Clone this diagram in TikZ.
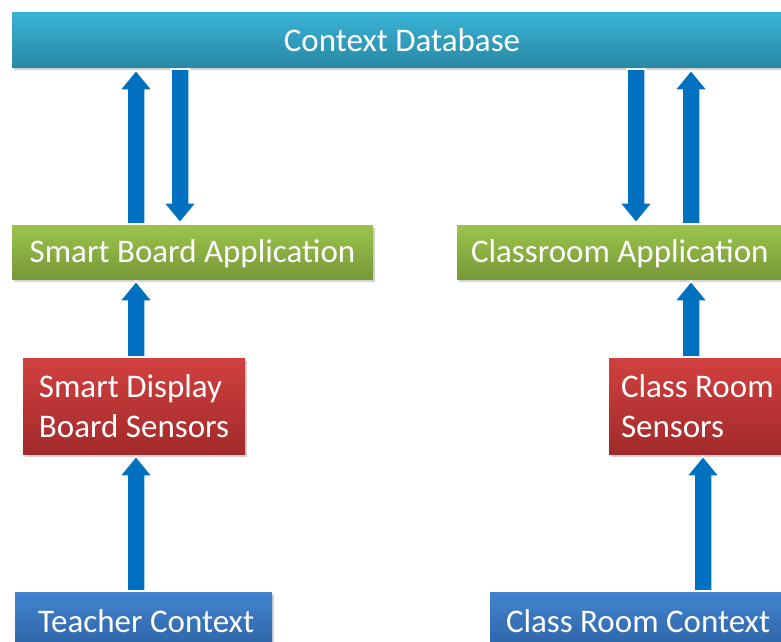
\documentclass[tikz,border=0pt]{standalone}
\usepackage{fontspec}
\setmainfont{Carlito}
\usetikzlibrary{calc,shadows}
\definecolor{arrblue}{RGB}{0,112,192}
\definecolor{dbtop}{RGB}{58,178,214}
\definecolor{dbbot}{RGB}{40,136,164}
\definecolor{grtop}{RGB}{156,196,76}
\definecolor{grbot}{RGB}{118,152,56}
\definecolor{rdtop}{RGB}{210,64,64}
\definecolor{rdbot}{RGB}{162,42,42}
\definecolor{bltop}{RGB}{66,132,208}
\definecolor{blbot}{RGB}{46,98,164}
\tikzset{
  box/.style={rectangle, inner ysep=0pt, text=white,
    font=\fontsize{33}{40}\selectfont,
    drop shadow={opacity=0.35, shadow xshift=1.5pt, shadow yshift=-2.5pt}},
  oneline/.style={text height=21.5pt, text depth=0pt},
  dbbox/.style={box, oneline, top color=dbtop, bottom color=dbbot},
  grbox/.style={box, oneline, top color=grtop, bottom color=grbot},
  rdbox/.style={box, top color=rdtop, bottom color=rdbot},
  blbox/.style={box, oneline, top color=bltop, bottom color=blbot},
  blk/.style={fill=arrblue, draw=white, line width=1.5pt, line join=miter}
}
\newcommand\blkup[3]{%
  \draw[blk] let \p1=(#2.north), \p2=(#3.south) in
    ({#1pt-9pt},{\y1+1pt}) -- ({#1pt-9pt},{\y2-22pt}) -- ({#1pt-16.5pt},{\y2-22pt})
    -- ({#1pt},{\y2-2pt}) -- ({#1pt+16.5pt},{\y2-22pt}) -- ({#1pt+9pt},{\y2-22pt})
    -- ({#1pt+9pt},{\y1+1pt}) -- cycle;}
\newcommand\blkdown[3]{%
  \draw[blk] let \p1=(#2.south), \p2=(#3.north) in
    ({#1pt-9pt},{\y1-1pt}) -- ({#1pt-9pt},{\y2+22pt}) -- ({#1pt-16.5pt},{\y2+22pt})
    -- ({#1pt},{\y2+2pt}) -- ({#1pt+16.5pt},{\y2+22pt}) -- ({#1pt+9pt},{\y2+22pt})
    -- ({#1pt+9pt},{\y1-1pt}) -- cycle;}
\begin{document}
\begin{tikzpicture}[x=1pt,y=1pt]
\useasboundingbox (0,0) rectangle (781,641);
\clip (0,0) rectangle (781,641);
\fill[white] (0,0) rectangle (781,641);
% boxes
\node[dbbox, minimum width=780pt, minimum height=55pt] (db) at (402,600.5) {Context Database};
\node[grbox, minimum width=361pt, minimum height=54pt] (sba) at (192.5,389) {Smart Board Application};
\node[grbox, minimum height=54pt, inner xsep=14pt, text width=316pt, align=flush left] (ca) at (629,389) {Classroom Application};
\node[rdbox, minimum width=222pt, minimum height=96pt, align=flush left] (sdbs) at (134,235) {Smart Display\\Board Sensors};
\node[rdbox, minimum height=96pt, inner xsep=12pt, text width=170pt, align=flush left] (crs) at (706,235) {Class Room\\Sensors};
\node[blbox, minimum width=257pt, minimum height=59pt, inner xsep=0pt, text width=230pt, align=flush left] (tc) at (143.5,19.5) {\hspace*{9.5pt}Teacher Context};
\node[blbox, minimum height=59pt, inner xsep=16pt, text width=294pt, align=flush left] (crc) at (653,19.5) {Class Room Context};
% arrows
\blkup{136}{sba}{db}
\blkdown{180}{db}{sba}
\blkup{136}{sdbs}{sba}
\blkup{136}{tc}{sdbs}
\blkdown{636}{db}{ca}
\blkup{691}{ca}{db}
\blkup{691}{crs}{ca}
\blkup{703}{crc}{crs}
\end{tikzpicture}
\end{document}
